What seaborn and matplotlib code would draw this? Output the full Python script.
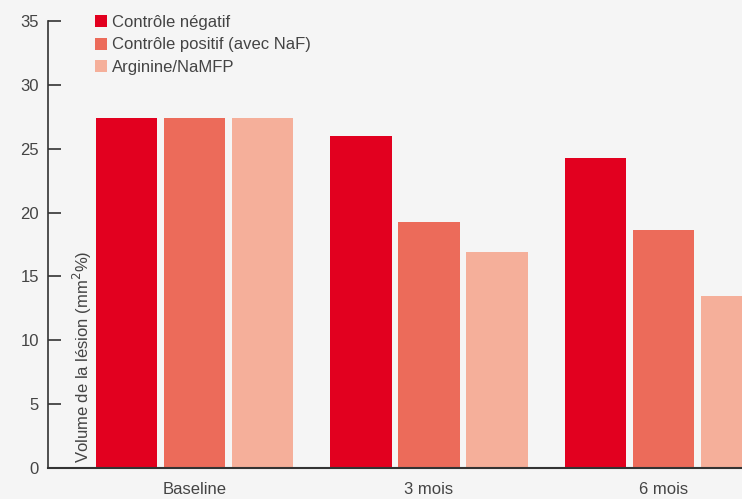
import pandas as pd
import seaborn as sns
import matplotlib.pyplot as plt
from matplotlib.patches import Patch

periods = ["Baseline", "3 mois", "6 mois"]
groups = ["Contrôle négatif", "Contrôle positif (avec NaF)", "Arginine/NaMFP"]
neg_control = [27.4, 26.0, 24.3]
pos_control = [27.4, 19.3, 18.6]
arginine = [27.4, 16.9, 13.5]
colors = ["#E2001F", "#EC6B5A", "#F5AF9A"]
y_ticks = [0, 5, 10, 15, 20, 25, 30, 35]

rows = []
for name, vals in zip(groups, [neg_control, pos_control, arginine]):
    for p, v in zip(periods, vals):
        rows.append({"period": p, "group": name, "value": v})
df = pd.DataFrame(rows)

bg = "#F5F5F5"
txt = "#444444"

sns.set_style("white")
plt.rcParams["font.family"] = ["Liberation Sans", "DejaVu Sans"]

fig = plt.figure(figsize=(7.42, 4.99), dpi=100, facecolor=bg)
ax = fig.add_axes([48 / 742, 1 - 468 / 499, 1 - 48 / 742, 447 / 499])
ax.set_facecolor(bg)

sns.barplot(data=df, x="period", y="value", hue="group", order=periods,
            hue_order=groups, palette=colors, width=0.87, gap=0.1,
            linewidth=0, saturation=1, legend=False, ax=ax)

ax.set_xlim(-0.625, 2.335)
ax.set_ylim(0, 35)
ax.set_yticks(y_ticks)
ax.set_xlabel("")
ax.set_ylabel("")

for side in ["top", "right"]:
    ax.spines[side].set_visible(False)
ax.spines["left"].set_color("#333333")
ax.spines["left"].set_linewidth(1.2)
ax.spines["bottom"].set_color("#333333")
ax.spines["bottom"].set_linewidth(1.5)
ax.spines["bottom"].set_zorder(5)

ax.tick_params(axis="y", left=True, direction="in", length=9, width=1.2,
               color="#333333", labelsize=12, labelcolor=txt, pad=6.5)
ax.tick_params(axis="x", bottom=False, length=0, labelsize=12,
               labelcolor=txt, pad=10)

ax.text(0.049, 0.012, "Volume de la lésion (mm$^{2}$%)", transform=ax.transAxes,
        rotation=90, ha="center", va="bottom", fontsize=12, color=txt)

handles = [Patch(facecolor=c, edgecolor="none") for c in colors]
ax.legend(handles, groups, loc="upper left", bbox_to_anchor=(0.058, 1.028),
          frameon=False, fontsize=12, labelcolor=txt, handlelength=0.72,
          handleheight=0.72, handletextpad=0.3, labelspacing=0.44,
          borderaxespad=0)

plt.savefig("out.png", dpi=100, facecolor=bg)
plt.close()
